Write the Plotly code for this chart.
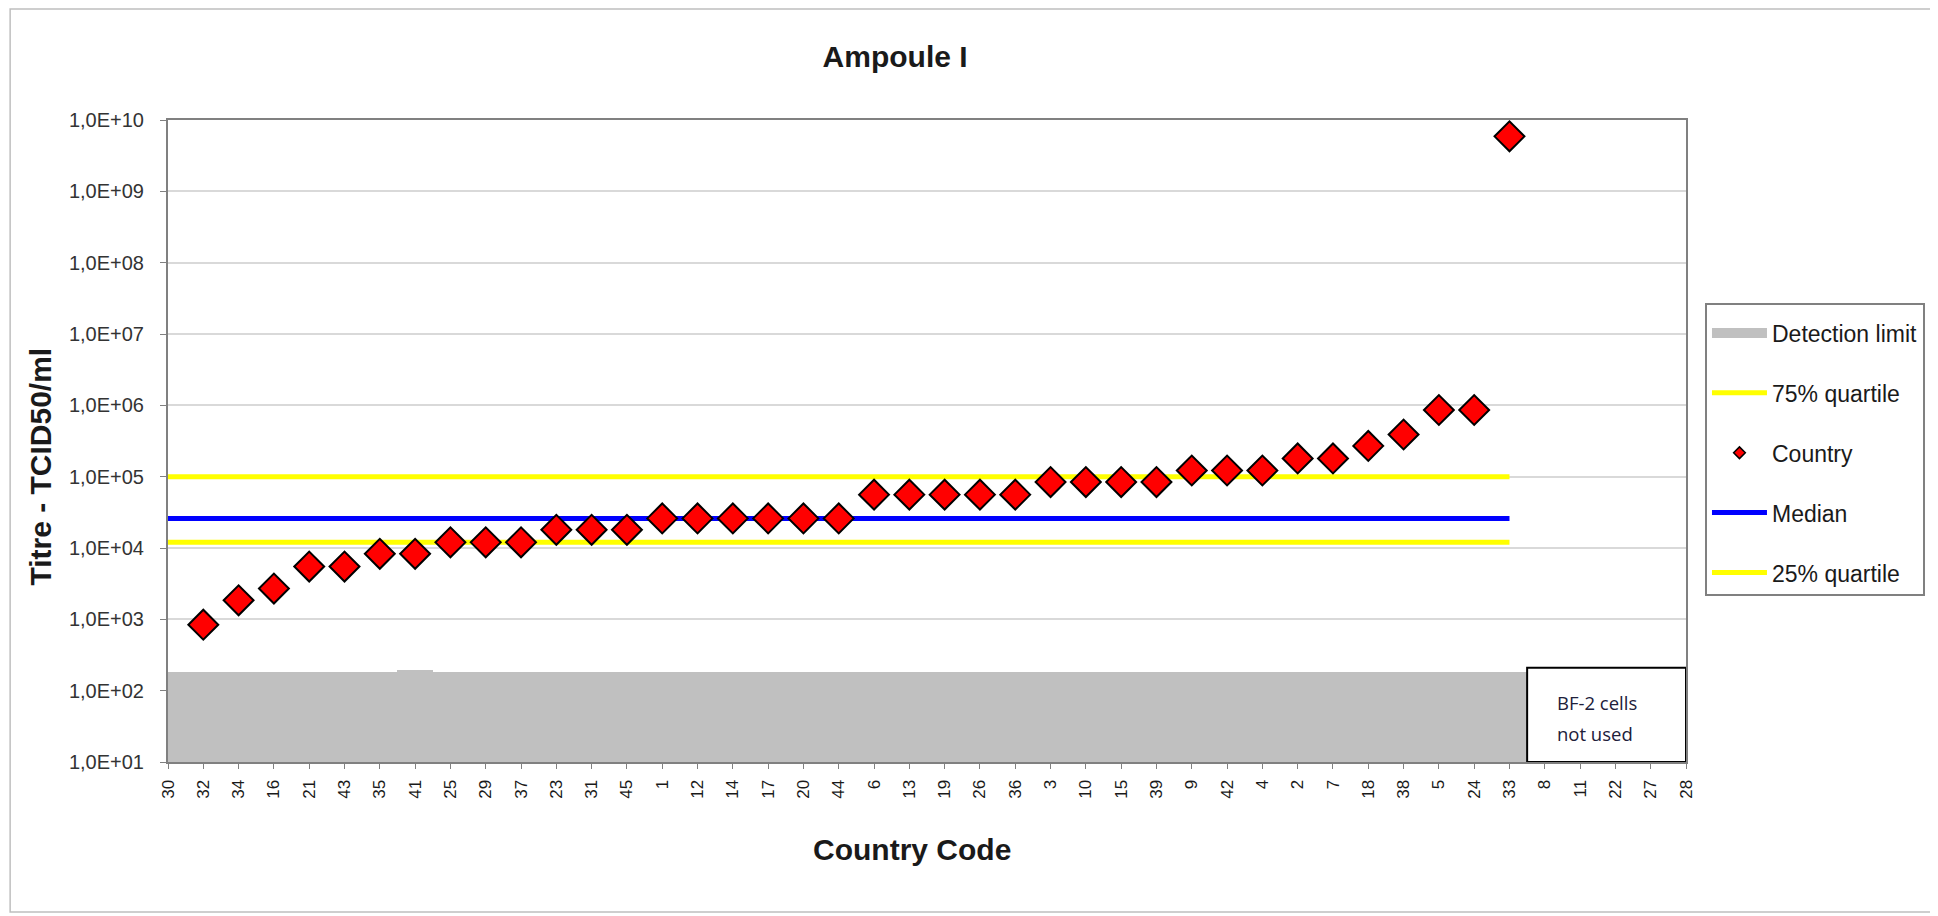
import plotly.graph_objects as go

# ---------------- data ----------------
country_codes = ["30", "32", "34", "16", "21", "43", "35", "41", "25", "29",
                 "37", "23", "31", "45", "1", "12", "14", "17", "20", "44",
                 "6", "13", "19", "26", "36", "3", "10", "15", "39", "9",
                 "42", "4", "2", "7", "18", "38", "5", "24", "33",
                 "8", "11", "22", "27", "28"]

titre = [None, 8.4e2, 1.85e3, 2.7e3, 5.5e3, 5.5e3, 8.3e3, 8.3e3, 1.2e4, 1.2e4,
         1.2e4, 1.8e4, 1.8e4, 1.8e4, 2.6e4, 2.6e4, 2.6e4, 2.6e4, 2.6e4, 2.6e4,
         5.6e4, 5.6e4, 5.6e4, 5.6e4, 5.6e4, 8.4e4, 8.4e4, 8.4e4, 8.4e4, 1.22e5,
         1.22e5, 1.22e5, 1.8e5, 1.8e5, 2.7e5, 3.9e5, 8.6e5, 8.6e5, 5.9e9,
         None, None, None, None, None]

detection_limit = [185, 185, 185, 185, 185, 185, 185, 197, 185, 185,
                   185, 185, 185, 185, 185, 185, 185, 185, 185, 185,
                   185, 185, 185, 185, 185, 185, 185, 185, 185, 185,
                   185, 185, 185, 185, 185, 185, 185, 185, 185,
                   None, None, None, None, None]

quartile_75 = 1.0e5
median_value = 2.6e4
quartile_25 = 1.2e4
line_span = ["30", "33"]

y_tick_values = [1e1, 1e2, 1e3, 1e4, 1e5, 1e6, 1e7, 1e8, 1e9, 1e10]
y_tick_labels = ["1,0E+01", "1,0E+02", "1,0E+03", "1,0E+04", "1,0E+05",
                 "1,0E+06", "1,0E+07", "1,0E+08", "1,0E+09", "1,0E+10"]

FONT = "Liberation Sans, Arial, sans-serif"
TXT = "#1a1a1a"

fig = go.Figure()

# detection limit columns (legend entry drawn separately below)
fig.add_trace(go.Bar(
    x=country_codes, y=detection_limit, width=1,
    marker=dict(color="#C0C0C0", line=dict(width=0)),
    name="Detection limit", showlegend=False, hoverinfo="skip"))

# legend-only entry for detection limit
fig.add_trace(go.Scatter(
    x=[None], y=[None], mode="lines",
    line=dict(color="#C0C0C0", width=12), name="Detection limit",
    legendgroup="det"))

fig.add_trace(go.Scatter(
    x=line_span, y=[quartile_75, quartile_75], mode="lines",
    line=dict(color="#FFFF00", width=5), name="75% quartile",
    legendgroup="q75"))

# legend-only entry for country markers
fig.add_trace(go.Scatter(
    x=[None], y=[None], mode="markers",
    marker=dict(symbol="diamond", size=9, color="#FF0000",
                line=dict(color="#000000", width=1.5)),
    name="Country", legendgroup="cty"))

fig.add_trace(go.Scatter(
    x=line_span, y=[median_value, median_value], mode="lines",
    line=dict(color="#0000FF", width=5), name="Median",
    legendgroup="med"))

fig.add_trace(go.Scatter(
    x=line_span, y=[quartile_25, quartile_25], mode="lines",
    line=dict(color="#FFFF00", width=5), name="25% quartile",
    legendgroup="q25"))

# country markers
fig.add_trace(go.Scatter(
    x=country_codes, y=titre, mode="markers",
    marker=dict(symbol="diamond", size=23, color="#FF0000",
                line=dict(color="#000000", width=2)),
    name="Country", showlegend=False, legendgroup="cty"))

fig.update_layout(
    width=1930, height=908,
    margin=dict(l=160, r=252, t=112, b=154),
    paper_bgcolor="white", plot_bgcolor="white",
    font=dict(family=FONT, color=TXT),
    bargap=0,
    title=dict(text="Ampoule I", x=0.479, xref="paper", xanchor="center",
               y=1 - 48 / 908, yref="container", yanchor="middle",
               font=dict(size=30, weight="bold", color=TXT, family=FONT)),
    legend=dict(x=1.0125, y=0.715, xanchor="left", yanchor="top",
                bordercolor="#808080", borderwidth=2, bgcolor="white",
                font=dict(size=23, family=FONT, color=TXT),
                title=dict(text=" ", font=dict(size=5)),
                tracegroupgap=27, itemwidth=55, traceorder="grouped"),
    showlegend=True,
)

fig.update_xaxes(
    type="category", categoryorder="array", categoryarray=country_codes,
    range=[0, 43], tickangle=-90, tickfont=dict(size=17, family=FONT, color=TXT),
    ticks="outside", ticklen=5, tickcolor="#808080", ticklabelstandoff=4,
    showline=True, linecolor="#808080", linewidth=2, mirror=True,
    showgrid=False, zeroline=False)

fig.update_yaxes(
    type="log", range=[1, 10], tickvals=y_tick_values, ticktext=y_tick_labels,
    tickfont=dict(size=20, family=FONT, color="#333333"),
    ticks="outside", ticklen=6, tickcolor="#808080", ticklabelstandoff=12,
    showline=True, linecolor="#808080", linewidth=2, mirror=True,
    showgrid=True, gridcolor="#D9D9D9", gridwidth=1.5, zeroline=False)

# axis titles
fig.add_annotation(text="Country Code", xref="paper", yref="paper",
                   x=0.49, y=-0.137, xanchor="center", yanchor="middle",
                   showarrow=False, font=dict(size=30, weight="bold", family=FONT, color=TXT))
fig.add_annotation(text="Titre - TCID50/ml", xref="paper", yref="paper",
                   x=-0.0837, y=0.46, xanchor="center", yanchor="middle",
                   textangle=-90, showarrow=False,
                   font=dict(size=30, weight="bold", family=FONT, color=TXT))

# "BF-2 cells not used" box
fig.add_shape(type="rect", xref="x", yref="y", x0=38.5, x1=43, y0=10, y1=210,
              line=dict(color="#000000", width=2), fillcolor="white", layer="above")
BOX_FONT = dict(size=18.5, family="Open Sans, Liberation Sans, sans-serif", color="#20203a")
fig.add_annotation(text="BF-2 cells", xref="x", yref="paper", x=39.3, y=0.093,
                   xanchor="left", yanchor="middle", showarrow=False, font=BOX_FONT)
fig.add_annotation(text="not used", xref="x", yref="paper", x=39.3, y=0.045,
                   xanchor="left", yanchor="middle", showarrow=False, font=BOX_FONT)

# outer frame
fig.add_shape(type="rect", xref="paper", yref="paper",
              x0=-0.104, x1=1.166, y0=-0.2336, y1=1.173,
              line=dict(color="#BFBFBF", width=1.5), fillcolor="rgba(0,0,0,0)")

fig.write_html("out.html")
